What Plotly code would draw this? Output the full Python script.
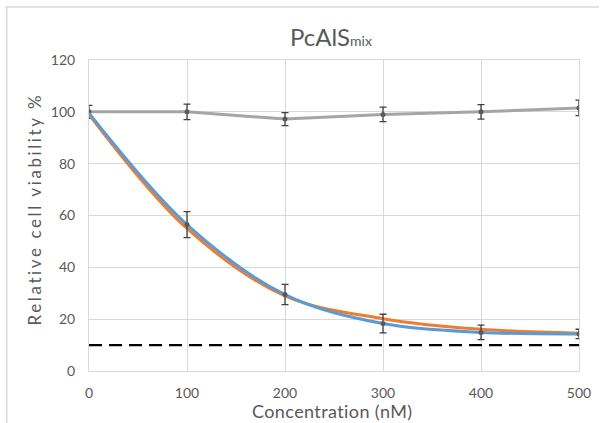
import plotly.graph_objects as go

conc = [0, 100, 200, 300, 400, 500]
control = [100, 100, 97.2, 99, 100, 101.5]
control_err = [2.5, 3, 2.5, 2.8, 2.8, 3]
blue = [99.5, 56.5, 29.5, 18.3, 14.9, 14.3]
blue_err = [0, 5, 3.9, 3.6, 2.8, 1.8]
orange = [99, 55, 29, 20.2, 16.1, 14.6]
threshold = [10, 10]
thr_x = [0, 500]

FONT = "Lato"
GREY_TXT = "#595959"
W, H = 603, 423
L, R, T, B = 89, 20, 60, 52
PW, PH = W - L - R, H - T - B


def px(x):
    return (x - L) / PW


def py(y):
    return (H - B - y) / PH


fig = go.Figure()
fig.add_trace(go.Scatter(x=thr_x, y=threshold, mode="lines",
                         line=dict(color="black", width=2.2, dash="13px,7px"), showlegend=False))
fig.add_trace(go.Scatter(x=conc, y=control, mode="lines+markers",
                         line=dict(color="#a5a5a5", width=3),
                         marker=dict(color="#595959", size=5),
                         error_y=dict(type="data", array=control_err, color="#404040", thickness=1.3, width=3.5),
                         showlegend=False))
fig.add_trace(go.Scatter(x=conc, y=orange, mode="lines", line_shape="spline",
                         line=dict(color="#ed7d31", width=3), showlegend=False))
fig.add_trace(go.Scatter(x=conc, y=blue, mode="lines", line_shape="spline",
                         line=dict(color="#5b9bd5", width=3), showlegend=False))
fig.add_trace(go.Scatter(x=conc[1:], y=blue[1:], mode="markers",
                         marker=dict(color="#595959", size=5),
                         error_y=dict(type="data", array=blue_err[1:], color="#404040", thickness=1.3, width=3.5),
                         showlegend=False))

fig.update_layout(
    width=W, height=H,
    margin=dict(l=L, r=R, t=T, b=B),
    paper_bgcolor="white", plot_bgcolor="white",
    font=dict(family=FONT, color=GREY_TXT),
    title=dict(text="PcAlS<span style='font-size:14px'>mix</span>", x=px(333), xanchor="center",
               y=1 - 38 / H, yanchor="middle", xref="paper",
               font=dict(size=24, color=GREY_TXT, family=FONT)),
    xaxis=dict(range=[0, 500], tickvals=conc, showgrid=True, gridcolor="#d9d9d9", gridwidth=1,
               zeroline=False, showline=True, linecolor="#d9d9d9", mirror=True,
               ticks="", ticklabelstandoff=9, tickfont=dict(size=14, color=GREY_TXT)),
    yaxis=dict(range=[0, 120], tickvals=[0, 20, 40, 60, 80, 100, 120], showgrid=True,
               gridcolor="#d9d9d9", gridwidth=1, zeroline=False, showline=True, linecolor="#d9d9d9",
               mirror=True, ticks="", ticklabelstandoff=10, tickfont=dict(size=14, color=GREY_TXT)),
    annotations=[
        dict(text="<span style='letter-spacing:0.4px'>Concentration (nM)</span>",
             xref="paper", yref="paper", x=px(334), y=py(411), xanchor="center", yanchor="middle",
             showarrow=False, font=dict(size=18, color=GREY_TXT, family=FONT)),
        dict(text="<span style='letter-spacing:2.6px'>Relative cell viability %</span>",
             xref="paper", yref="paper", x=px(34), y=py(209), xanchor="center", yanchor="middle",
             textangle=-90, showarrow=False, font=dict(size=17, color=GREY_TXT, family=FONT)),
    ],
    shapes=[
        dict(type="line", xref="paper", yref="paper", x0=px(5), x1=px(603),
             y0=py(7), y1=py(7), line=dict(color="#d9d9d9", width=1.5)),
        dict(type="line", xref="paper", yref="paper", x0=px(6), x1=px(6),
             y0=py(7), y1=py(423), line=dict(color="#d9d9d9", width=1.5)),
    ],
)

fig.write_html("out.html")
